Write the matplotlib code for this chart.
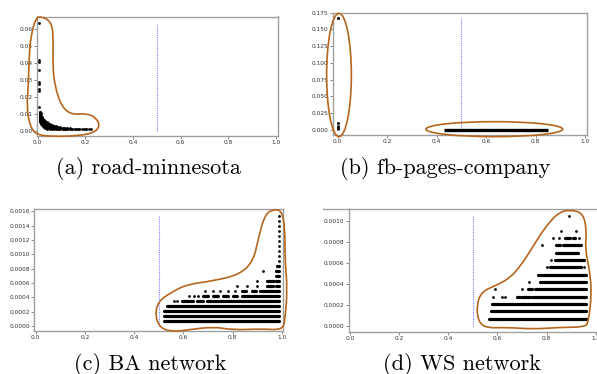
import matplotlib
matplotlib.use("Agg")
import matplotlib.pyplot as plt
from matplotlib.path import Path
from matplotlib.patches import PathPatch, Ellipse
from matplotlib.lines import Line2D

# ---------------- data ----------------
# (a) road-minnesota : sparse points near x=0 and a decaying cloud
road_sparse_x = [0.004, 0.006, 0.006, 0.005, 0.006, 0.006, 0.006, 0.007, 0.007, 0.008, 0.010, 0.012]
road_sparse_y = [0.0636, 0.0418, 0.0405, 0.0360, 0.0290, 0.0278, 0.0245, 0.0232, 0.0137, 0.0112, 0.0110, 0.0107]
road_col_x = [0.008, 0.011, 0.014, 0.018, 0.022, 0.027, 0.032, 0.038, 0.045, 0.052, 0.060, 0.068,
              0.077, 0.086, 0.095, 0.105, 0.115, 0.125, 0.135, 0.145, 0.155, 0.165, 0.175, 0.185,
              0.195, 0.205, 0.215, 0.225]
road_col_y = [
    [0.0100, 0.0092, 0.0085, 0.0078, 0.0070, 0.0063],
    [0.0104, 0.0095, 0.0088, 0.0080, 0.0072, 0.0065, 0.0058, 0.0050],
    [0.0096, 0.0086, 0.0077, 0.0069, 0.0061, 0.0054, 0.0046, 0.0040],
    [0.0080, 0.0072, 0.0064, 0.0057, 0.0050, 0.0044, 0.0037, 0.0031],
    [0.0070, 0.0062, 0.0055, 0.0048, 0.0042, 0.0036, 0.0030, 0.0025],
    [0.0060, 0.0053, 0.0046, 0.0040, 0.0034, 0.0029, 0.0024, 0.0019],
    [0.0055, 0.0047, 0.0040, 0.0034, 0.0029, 0.0024, 0.0019, 0.0015],
    [0.0048, 0.0041, 0.0035, 0.0030, 0.0025, 0.0020, 0.0016, 0.0012],
    [0.0043, 0.0037, 0.0031, 0.0026, 0.0021, 0.0017, 0.0013],
    [0.0040, 0.0033, 0.0027, 0.0022, 0.0018, 0.0014, 0.0011],
    [0.0033, 0.0028, 0.0023, 0.0019, 0.0015, 0.0012],
    [0.0030, 0.0025, 0.0020, 0.0016, 0.0013, 0.0010],
    [0.0026, 0.0021, 0.0017, 0.0014, 0.0011],
    [0.0022, 0.0018, 0.0015, 0.0012, 0.0009],
    [0.0019, 0.0016, 0.0013, 0.0010],
    [0.0017, 0.0014, 0.0011, 0.0009],
    [0.0015, 0.0012, 0.0009],
    [0.0014, 0.0011, 0.0009],
    [0.0013, 0.0010],
    [0.0012, 0.0009],
    [0.0010, 0.0008],
    [0.0010],
    [0.0010, 0.0008],
    [0.0010],
    [0.0010],
    [0.0010, 0.0008],
    [0.0010],
    [0.0010],
]
road_max = 0.0636

# (b) fb-pages-company
fb_pts_x = [0.003, 0.003]
fb_pts_y = [0.1666, 0.0109]
fb_bar_x = [0.003]
fb_bar_y0 = [0.0]
fb_bar_y1 = [0.0075]
fb_band_y = [0.0004]
fb_band_x0 = [0.431]
fb_band_x1 = [0.852]
fb_max = 0.1666

# (c) BA network : lattice of levels
ba_levels = [0.00007, 0.00014, 0.00021, 0.00028, 0.00035, 0.00042, 0.00049, 0.00056,
             0.00063, 0.00070, 0.00077, 0.00084, 0.00091, 0.00098, 0.00105, 0.00112,
             0.00119, 0.00126, 0.00133, 0.00140, 0.00147, 0.00154]
ba_seg_k = [1, 2, 3, 4, 5, 5, 5, 6, 6, 6, 6, 6, 7, 7, 7, 8, 8, 9, 9, 10, 11, 12]
ba_seg_x0 = [0.520, 0.520, 0.523, 0.533, 0.595, 0.655, 0.695, 0.680, 0.720, 0.760, 0.800, 0.840,
             0.840, 0.880, 0.910, 0.940, 0.978, 0.940, 0.978, 0.975, 0.975, 0.980]
ba_seg_x1 = [0.990, 0.990, 0.990, 0.990, 0.640, 0.680, 0.990, 0.700, 0.740, 0.780, 0.820, 0.990,
             0.855, 0.895, 0.990, 0.965, 0.990, 0.970, 0.990, 0.990, 0.990, 0.990]
ba_dot_k = [5, 5, 6, 6, 6, 7, 7, 7, 7, 7, 8, 8, 8, 9, 11, 13, 14, 15, 16, 17, 18, 19, 20, 21, 22]
ba_dot_x = [0.563, 0.575, 0.625, 0.645, 0.660, 0.688, 0.720, 0.750, 0.780, 0.810, 0.817, 0.857,
            0.898, 0.900, 0.925, 0.990, 0.990, 0.990, 0.990, 0.990, 0.990, 0.990, 0.990, 0.990, 0.990]
ba_max = 0.00155

# (d) WS network
ws_levels = ba_levels[:15]
ws_seg_k = [1, 2, 3, 4, 4, 4, 5, 5, 6, 7, 7, 8, 9, 10, 11, 11, 12, 12]
ws_seg_x0 = [0.567, 0.572, 0.576, 0.681, 0.698, 0.739, 0.723, 0.753, 0.773, 0.763, 0.786, 0.814,
             0.834, 0.837, 0.840, 0.868, 0.875, 0.906]
ws_seg_x1 = [0.963, 0.960, 0.960, 0.692, 0.732, 0.960, 0.739, 0.960, 0.960, 0.780, 0.960, 0.938,
             0.952, 0.929, 0.854, 0.938, 0.895, 0.915]
ws_dot_k = [4, 4, 4, 5, 5, 6, 8, 8, 9, 11, 12, 12, 12, 13, 13, 15]
ws_dot_x = [0.583, 0.617, 0.631, 0.590, 0.698, 0.728, 0.803, 0.952, 0.816, 0.782, 0.827, 0.849,
            0.933, 0.857, 0.919, 0.892]
ws_max = 0.00106

# hand-drawn outlines (data coordinates)
outline_a_x = [0.010, 0.059, 0.066, 0.063, 0.073, 0.100, 0.143, 0.206, 0.248, 0.261, 0.233, 0.164,
               0.066, -0.004, -0.032, -0.046, -0.039, -0.035, -0.025, -0.011]
outline_a_y = [0.0679, 0.0645, 0.0537, 0.0379, 0.0260, 0.0142, 0.0093, 0.0103, 0.0073, 0.0024,
               -0.0015, -0.0031, -0.0035, -0.0025, 0.0024, 0.0142, 0.0260, 0.0478, 0.0576, 0.0655]
ellipse_b_cx = [0.005, 0.633]
ellipse_b_cy = [0.082, 0.0012]
ellipse_b_w = [0.100, 0.553]
ellipse_b_h = [0.184, 0.0224]
outline_c_x = [0.966, 1.000, 1.013, 1.013, 1.023, 1.013, 1.000, 0.912, 0.803, 0.722, 0.614, 0.559,
               0.505, 0.485, 0.498, 0.546, 0.614, 0.722, 0.830, 0.885, 0.905, 0.932]
outline_c_y = [0.00163, 0.00161, 0.00137, 0.00091, 0.00053, 0.00006, -0.000056, -0.00004, -0.000056,
               -0.00001, -0.000056, -0.00008, -0.00003, 0.000155, 0.00034, 0.00046, 0.00058, 0.00063,
               0.00072, 0.00091, 0.00123, 0.00156]
outline_d_x = [0.895, 0.949, 0.963, 0.956, 0.976, 0.983, 0.970, 0.956, 0.854, 0.746, 0.637, 0.556,
               0.522, 0.515, 0.536, 0.597, 0.651, 0.692, 0.732, 0.773, 0.814, 0.854]
outline_d_y = [0.00111, 0.00108, 0.00090, 0.00074, 0.00052, 0.00030, 0.00004, -0.00001, -0.000013,
               -0.00003, -0.000013, -0.00002, 0.00004, 0.00020, 0.00033, 0.00039, 0.00046, 0.00057,
               0.00071, 0.00087, 0.00100, 0.00109]

captions = ["(a) road-minnesota", "(b) fb-pages-company", "(c) BA network", "(d) WS network"]
x_ticks = [0.0, 0.2, 0.4, 0.6, 0.8, 1.0]
y_ticks_a = [0.00, 0.01, 0.02, 0.03, 0.04, 0.05, 0.06]
y_ticks_b = [0.000, 0.025, 0.050, 0.075, 0.100, 0.125, 0.150, 0.175]
y_ticks_c = [0.0000, 0.0002, 0.0004, 0.0006, 0.0008, 0.0010, 0.0012, 0.0014, 0.0016]
y_ticks_d = [0.0000, 0.0002, 0.0004, 0.0006, 0.0008, 0.0010]
threshold = 0.5

# ---------------- style ----------------
W, H = 597, 374
fig = plt.figure(figsize=(W / 100, H / 100), dpi=100)
OUT = "#b5651d"
DOT = "black"
LINEC = "#7d7dff"
SPINE = "#a0a0a0"


def rect(l, t, r, b):
    return [l / W, 1 - b / H, (r - l) / W, (b - t) / H]


def style(ax, yticks, yfmt, xlim, ylim):
    ax.set_xlim(*xlim)
    ax.set_ylim(*ylim)
    ax.set_xticks(x_ticks)
    ax.set_xticklabels([f"{v:.1f}" for v in x_ticks])
    ax.set_yticks(yticks)
    ax.set_yticklabels([yfmt.format(v) for v in yticks])
    for s in ax.spines.values():
        s.set_color(SPINE)
        s.set_linewidth(1.0)
    ax.tick_params(length=2, width=0.6, color="#777777", labelsize=4.2,
                   labelcolor="#333333", pad=1.2)


def smooth_outline(ax, xs, ys):
    n = len(xs)
    pts = list(zip(xs, ys))
    mids = [((pts[i][0] + pts[(i + 1) % n][0]) / 2, (pts[i][1] + pts[(i + 1) % n][1]) / 2)
            for i in range(n)]
    verts = [mids[0]]
    codes = [Path.MOVETO]
    for i in range(n):
        verts.append(pts[(i + 1) % n])
        verts.append(mids[(i + 1) % n])
        codes += [Path.CURVE3, Path.CURVE3]
    p = PathPatch(Path(verts, codes), facecolor="none", edgecolor=OUT, lw=1.2,
                  clip_on=False, zorder=5)
    ax.add_patch(p)


def draw_lattice(ax, levels, seg_k, seg_x0, seg_x1, dot_k, dot_x):
    ax.hlines([levels[k - 1] for k in seg_k], seg_x0, seg_x1, colors=DOT, lw=2.3,
              capstyle="round", zorder=3)
    ax.plot(dot_x, [levels[k - 1] for k in dot_k], "o", color=DOT, ms=2.0, mew=0, zorder=3)


cap_font = dict(family="cmr10", fontsize=16, ha="center", va="center")

# (a)
axa = fig.add_axes(rect(36.7, 16.5, 278.3, 136))
xa, ya = [], []
for cx, cys in zip(road_col_x, road_col_y):
    for cy in cys:
        xa.append(cx)
        ya.append(cy)
axa.plot(xa, ya, "o", color=DOT, ms=2.0, mew=0, zorder=3)
axa.plot(road_sparse_x, road_sparse_y, "o", color=DOT, ms=2.0, mew=0, zorder=3)
axa.vlines([threshold], 0, road_max - 0.0005, colors=LINEC, lw=0.8, linestyles=(0, (1, 1)))
style(axa, y_ticks_a, "{:.2f}", (-0.004, 1.01), (-0.0032, 0.0675))
smooth_outline(axa, outline_a_x, outline_a_y)
fig.text(148 / W, 1 - 168 / H, captions[0], **cap_font)

# (b)
axb = fig.add_axes(rect(333.3, 12.7, 587.3, 135))
axb.plot(fb_pts_x, fb_pts_y, "o", color=DOT, ms=2.2, mew=0, zorder=3)
axb.vlines(fb_bar_x, fb_bar_y0, fb_bar_y1, colors=DOT, lw=2.0, zorder=3)
axb.hlines(fb_band_y, fb_band_x0, fb_band_x1, colors=DOT, lw=2.4, zorder=3)
axb.vlines([threshold], 0, fb_max, colors=LINEC, lw=0.8, linestyles=(0, (1, 1)))
style(axb, y_ticks_b, "{:.3f}", (-0.018, 1.009), (-0.0075, 0.175))
for cx, cy, w, h in zip(ellipse_b_cx, ellipse_b_cy, ellipse_b_w, ellipse_b_h):
    axb.add_patch(Ellipse((cx, cy), w, h, facecolor="none", edgecolor=OUT, lw=1.2,
                          clip_on=False, zorder=5))
fig.text(445 / W, 1 - 168 / H, captions[1], **cap_font)

# (c)
axc = fig.add_axes(rect(34.3, 209.3, 283, 331))
draw_lattice(axc, ba_levels, ba_seg_k, ba_seg_x0, ba_seg_x1, ba_dot_k, ba_dot_x)
axc.vlines([threshold], 0, ba_max, colors=LINEC, lw=0.8, linestyles=(0, (1, 1)))
style(axc, y_ticks_c, "{:.4f}", (-0.0057, 1.005), (-0.00007, 0.001629))
smooth_outline(axc, outline_c_x, outline_c_y)
fig.text(150 / W, 1 - 364 / H, captions[2], **cap_font)

# (d)
axd = fig.add_axes(rect(348.7, 209.3, 600, 331.7))
draw_lattice(axd, ws_levels, ws_seg_k, ws_seg_x0, ws_seg_x1, ws_dot_k, ws_dot_x)
axd.vlines([threshold], 0, ws_max, colors=LINEC, lw=0.8, linestyles=(0, (1, 1)))
style(axd, y_ticks_d, "{:.4f}", (-0.005, 1.017), (-0.0000544, 0.001115))
smooth_outline(axd, outline_d_x, outline_d_y)
fig.add_artist(Line2D([323 / W, 348.7 / W], [1 - 209.3 / H, 1 - 209.3 / H],
                      color=SPINE, lw=1.0, transform=fig.transFigure))
fig.text(462 / W, 1 - 364 / H, captions[3], **cap_font)

fig.savefig("out.png", dpi=100)
